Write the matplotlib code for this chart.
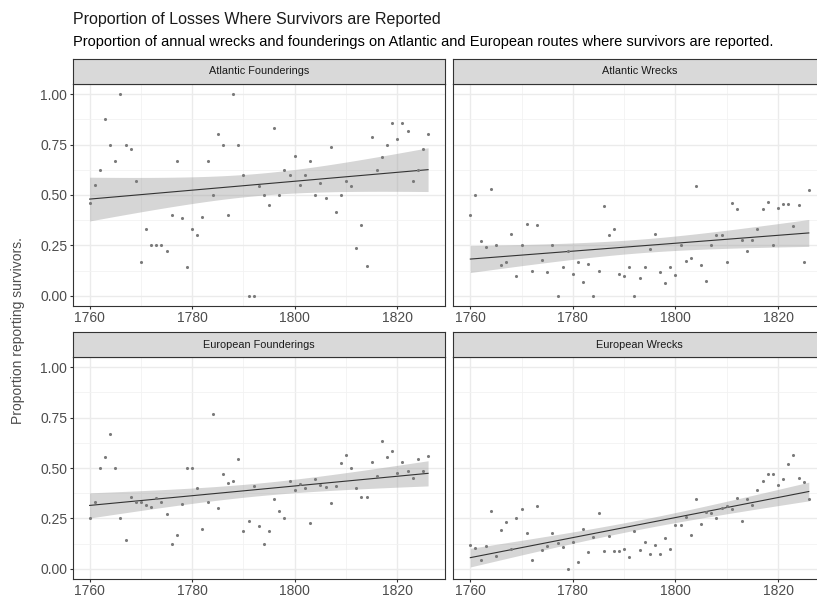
import numpy as np
import matplotlib
matplotlib.use('Agg')
import matplotlib.pyplot as plt

plt.rcParams['font.family'] = ['Liberation Sans', 'DejaVu Sans']

years = np.arange(1760, 1827)

# proportion of losses with survivors reported, one value per year
atlantic_founderings = [
    0.46, 0.55, 0.625, 0.875, 0.75, 0.667, 1.0, 0.75, 0.73, 0.57,
    0.167, 0.333, 0.25, 0.25, 0.25, 0.222, 0.40, 0.667, 0.385, 0.143,
    0.333, 0.30, 0.39, 0.667, 0.50, 0.80, 0.75, 0.40, 1.0, 0.75,
    0.60, 0.0, 0.0, 0.545, 0.50, 0.45, 0.833, 0.50, 0.625, 0.60,
    0.692, 0.55, 0.60, 0.667, 0.50, 0.56, 0.483, 0.737, 0.417, 0.50,
    0.571, 0.545, 0.235, 0.353, 0.15, 0.786, 0.625, 0.688, 0.75, 0.857,
    0.778, 0.857, 0.818, 0.571, 0.625, 0.727, 0.80]
atlantic_wrecks = [
    0.40, 0.50, 0.27, 0.24, 0.53, 0.25, 0.153, 0.167, 0.307, 0.10,
    0.25, 0.356, 0.125, 0.353, 0.177, 0.118, 0.25, 0.0, 0.145, 0.222,
    0.11, 0.167, 0.071, 0.158, 0.0, 0.125, 0.446, 0.30, 0.333, 0.11,
    0.10, 0.142, 0.0, 0.091, 0.142, 0.234, 0.307, 0.119, 0.063, 0.142,
    0.106, 0.25, 0.173, 0.19, 0.545, 0.153, 0.074, 0.25, 0.304, 0.30,
    0.17, 0.46, 0.429, 0.279, 0.222, 0.276, 0.333, 0.429, 0.467, 0.25,
    0.436, 0.455, 0.455, 0.347, 0.45, 0.167, 0.525]
european_founderings = [
    0.25, 0.333, 0.50, 0.555, 0.667, 0.50, 0.25, 0.143, 0.357, 0.333,
    0.333, 0.316, 0.306, 0.353, 0.333, 0.272, 0.125, 0.166, 0.323, 0.50,
    0.50, 0.40, 0.20, 0.333, 0.769, 0.30, 0.47, 0.428, 0.437, 0.545,
    0.19, 0.236, 0.409, 0.214, 0.125, 0.186, 0.348, 0.287, 0.25, 0.435,
    0.392, 0.422, 0.40, 0.227, 0.446, 0.415, 0.405, 0.328, 0.409, 0.524,
    0.563, 0.50, 0.40, 0.354, 0.357, 0.529, 0.461, 0.633, 0.555, 0.585,
    0.473, 0.532, 0.483, 0.448, 0.544, 0.484, 0.557]
european_wrecks = [
    0.12, 0.105, 0.044, 0.112, 0.287, 0.063, 0.193, 0.231, 0.099, 0.25,
    0.297, 0.18, 0.044, 0.313, 0.094, 0.114, 0.18, 0.13, 0.11, 0.0,
    0.133, 0.036, 0.196, 0.086, 0.158, 0.278, 0.089, 0.163, 0.091, 0.089,
    0.099, 0.058, 0.189, 0.096, 0.135, 0.076, 0.12, 0.072, 0.155, 0.099,
    0.217, 0.217, 0.259, 0.168, 0.346, 0.221, 0.283, 0.275, 0.25, 0.30,
    0.311, 0.297, 0.351, 0.237, 0.346, 0.318, 0.392, 0.437, 0.468, 0.468,
    0.418, 0.445, 0.519, 0.562, 0.451, 0.43, 0.348]

panels = [
    ('Atlantic Founderings', atlantic_founderings),
    ('Atlantic Wrecks', atlantic_wrecks),
    ('European Founderings', european_founderings),
    ('European Wrecks', european_wrecks),
]

W, H = 817, 607
fig = plt.figure(figsize=(W / 100, H / 100), dpi=100)


def px_axes(left, top, right, bottom):
    return fig.add_axes([left / W, 1 - bottom / H, (right - left) / W, (bottom - top) / H])


cols = [(72.7, 445.0), (453.4, 825.7)]
rows = [(59, 84, 306), (332, 357, 579)]

for i, (name, vals) in enumerate(panels):
    l, r = cols[i % 2]
    st, t, b = rows[i // 2]
    ax = px_axes(l, t, r, b)
    y = np.array(vals)
    x = years.astype(float)

    # linear fit with 95% confidence band (like geom_smooth(method='lm'))
    n = len(x)
    slope, icpt = np.polyfit(x, y, 1)
    resid = y - (slope * x + icpt)
    s = np.sqrt(np.sum(resid ** 2) / (n - 2))
    xs = np.linspace(x.min(), x.max(), 80)
    se = s * np.sqrt(1 / n + (xs - x.mean()) ** 2 / np.sum((x - x.mean()) ** 2))
    fit = slope * xs + icpt
    tval = 1.997
    ax.fill_between(xs, fit - tval * se, fit + tval * se, color='#999999', alpha=0.4,
                    linewidth=0, zorder=2)
    ax.plot(xs, fit, color='#333333', linewidth=0.8, zorder=3)
    ax.scatter(x, y, s=5, color='#7a7a7a', linewidths=0, zorder=4)

    ax.set_xlim(1756.7, 1829.3)
    ax.set_ylim(-0.05, 1.05)
    ax.set_xticks([1760, 1780, 1800, 1820])
    ax.set_xticks([1770, 1790, 1810], minor=True)
    ax.set_yticks([0, 0.25, 0.5, 0.75, 1.0])
    ax.set_yticks([0.125, 0.375, 0.625, 0.875], minor=True)
    ax.grid(which='major', color='#EBEBEB', linewidth=1.0, zorder=0)
    ax.grid(which='minor', color='#F2F2F2', linewidth=0.6, zorder=0)
    ax.set_axisbelow(True)
    ax.tick_params(which='major', length=2.5, width=0.8, color='#333333',
                   labelsize=10, labelcolor='#4D4D4D', pad=1.5)
    ax.tick_params(axis='x', pad=0.8)
    ax.tick_params(which='minor', length=0)
    if i % 2 == 0:
        ax.set_yticklabels(['0.00', '0.25', '0.50', '0.75', '1.00'])
    else:
        ax.tick_params(axis='y', which='both', left=False, labelleft=False)
    for sp in ax.spines.values():
        sp.set_color('#333333')
        sp.set_linewidth(0.8)

    sax = px_axes(l, st, r, t)
    sax.set_facecolor('#D9D9D9')
    sax.set_xticks([])
    sax.set_yticks([])
    for sp in sax.spines.values():
        sp.set_color('#333333')
        sp.set_linewidth(0.8)
    sax.text(0.5, 0.5, name, ha='center', va='center', fontsize=7.8,
             color='#1A1A1A', transform=sax.transAxes)

fig.text(72.7 / W, 1 - 24 / H, 'Proportion of Losses Where Survivors are Reported',
         fontsize=11.5, color='#1A1A1A', ha='left', va='baseline')
fig.text(72.7 / W, 1 - 46 / H,
         'Proportion of annual wrecks and founderings on Atlantic and European routes '
         'where survivors are reported.',
         fontsize=10.5, color='black', ha='left', va='baseline')
fig.text(18 / W, 1 - 331 / H, 'Proportion reporting survivors.', rotation=90,
         fontsize=10, color='#4D4D4D', ha='center', va='center')

fig.savefig('out.png', dpi=100)
